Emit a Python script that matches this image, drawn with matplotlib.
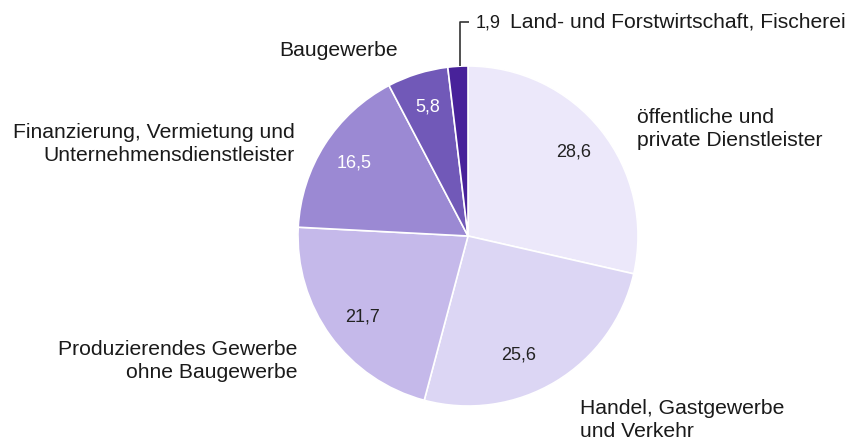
import matplotlib
matplotlib.use("Agg")
import matplotlib.pyplot as plt

categories = ["öffentliche und\nprivate Dienstleister",
              "Handel, Gastgewerbe\nund Verkehr",
              "Produzierendes Gewerbe\nohne Baugewerbe",
              "Finanzierung, Vermietung und\nUnternehmensdienstleister",
              "Baugewerbe",
              "Land- und Forstwirtschaft, Fischerei"]
values = [28.6, 25.6, 21.7, 16.5, 5.8, 1.9]
value_labels = ["28,6", "25,6", "21,7", "16,5", "5,8", "1,9"]
colors = ["#ece8fa", "#dcd6f4", "#c5b9ea", "#9b89d3", "#7159b8", "#48229a"]
value_colors = ["#222222", "#222222", "#222222", "#ffffff", "#ffffff", "#222222"]

W, H = 851, 439
plt.rcParams['font.family'] = ['Liberation Sans', 'DejaVu Sans']
fig = plt.figure(figsize=(W / 100, H / 100), dpi=100)
ax = fig.add_axes([0, 0, 1, 1])

cx, cy, R = 468, H - 237, 170
def py(y):
    return H - y

wedges, _ = ax.pie(values, colors=colors, startangle=90, counterclock=False,
                   center=(cx, cy), radius=R, frame=True,
                   wedgeprops=dict(edgecolor='white', linewidth=1.2))
ax.set_xlim(0, W)
ax.set_ylim(0, H)
ax.set_aspect('equal')
ax.axis('off')

# value labels inside slices
vfs = 13
val_pos = [(574, 152), (519, 355), (362, 317), (354, 163), (428, 107)]
for (x, y), t, c in zip(val_pos, value_labels[:5], value_colors[:5]):
    ax.text(x, py(y), t, ha='center', va='center', fontsize=vfs, color=c)

fs = 15.2
ls = 1.22
tc = "#1a1a1a"
ax.text(637, py(129), categories[0], ha='left', va='center', fontsize=fs, color=tc, linespacing=ls)
ax.text(580, py(420), categories[1], ha='left', va='center', fontsize=fs, color=tc, linespacing=ls)
ax.text(297, py(361), categories[2], ha='right', va='center', fontsize=fs, color=tc, linespacing=ls)
ax.text(295, py(144), categories[3], ha='right', va='center', fontsize=fs, color=tc, linespacing=ls)
ax.text(339, py(50), categories[4], ha='center', va='center', fontsize=fs, color=tc)

# leader for small slice
ax.plot([460, 460, 469], [py(67), py(23), py(23)], color='#333333', lw=1.2, solid_capstyle='butt')
ax.text(476, py(23), value_labels[5], ha='left', va='center', fontsize=vfs, color=tc)
ax.text(510, py(22), categories[5], ha='left', va='center', fontsize=fs, color=tc)

fig.savefig("out.png", dpi=100)
